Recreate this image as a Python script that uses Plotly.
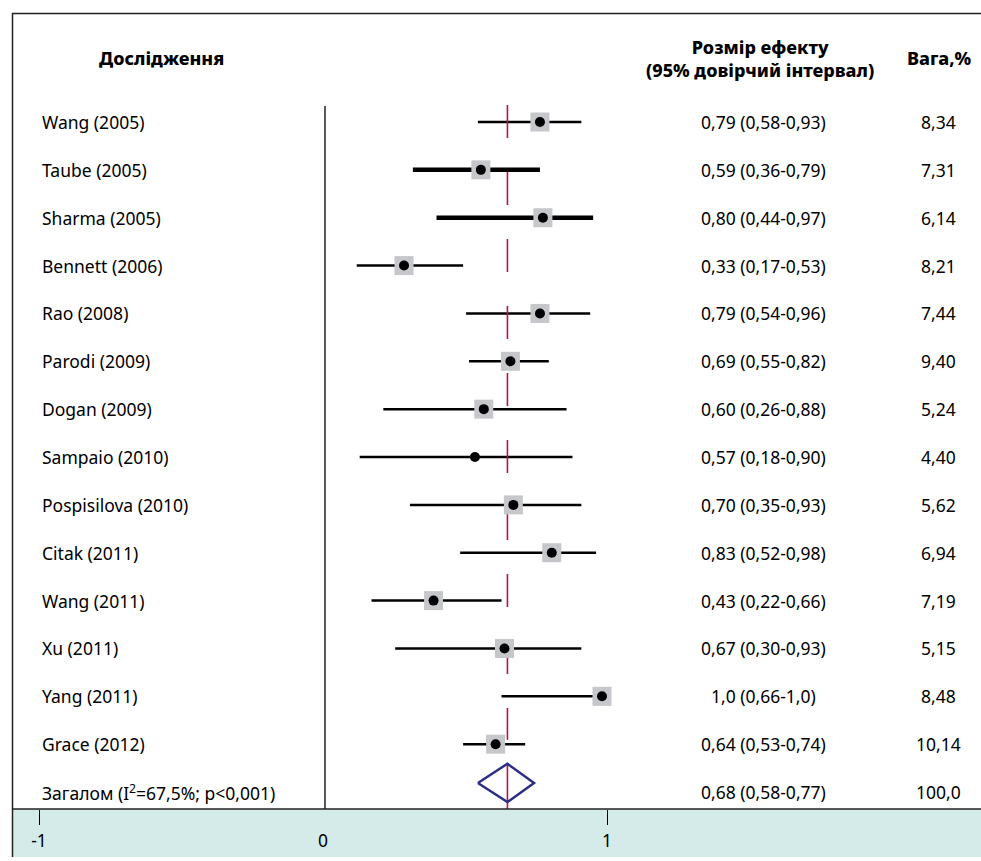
import plotly.graph_objects as go

# ---------------- data ----------------
studies = ["Wang (2005)", "Taube (2005)", "Sharma (2005)", "Bennett (2006)", "Rao (2008)",
           "Parodi (2009)", "Dogan (2009)", "Sampaio (2010)", "Pospisilova (2010)",
           "Citak (2011)", "Wang (2011)", "Xu (2011)", "Yang (2011)", "Grace (2012)"]
effect = [0.79, 0.59, 0.80, 0.33, 0.79, 0.69, 0.60, 0.57, 0.70, 0.83, 0.43, 0.67, 1.0, 0.64]
lower = [0.58, 0.36, 0.44, 0.17, 0.54, 0.55, 0.26, 0.18, 0.35, 0.52, 0.22, 0.30, 0.66, 0.53]
upper = [0.93, 0.79, 0.97, 0.53, 0.96, 0.82, 0.88, 0.90, 0.93, 0.98, 0.66, 0.93, 1.0, 0.74]
effect_text = ["0,79 (0,58-0,93)", "0,59 (0,36-0,79)", "0,80 (0,44-0,97)", "0,33 (0,17-0,53)",
               "0,79 (0,54-0,96)", "0,69 (0,55-0,82)", "0,60 (0,26-0,88)", "0,57 (0,18-0,90)",
               "0,70 (0,35-0,93)", "0,83 (0,52-0,98)", "0,43 (0,22-0,66)", "0,67 (0,30-0,93)",
               "1,0 (0,66-1,0)", "0,64 (0,53-0,74)"]
weights = ["8,34", "7,31", "6,14", "8,21", "7,44", "9,40", "5,24", "4,40", "5,62", "6,94",
           "7,19", "5,15", "8,48", "10,14"]

overall_label = "Загалом (I<sup>2</sup>=67,5%; p&lt;0,001)"
overall_effect = 0.68
overall_lower = 0.58
overall_upper = 0.77
overall_text = "0,68 (0,58-0,77)"
overall_weight = "100,0"

axis_tickvals = [-1, 0, 1]
axis_ticktext = ["-1", "0", "1"]

header_study = "Дослідження"
header_effect = "Розмір ефекту<br>(95% довірчий інтервал)"
header_weight = "Вага,%"

# ---------------- styles ----------------
thick_rows = {"Taube (2005)", "Sharma (2005)"}
no_square_rows = {"Sampaio (2010)"}
FONT = "'Noto Sans', 'DejaVu Sans', sans-serif"
FS = 17.5
W, H = 981, 861
ROW0, ROWH = 122.0, 47.86  # pixel of first row and row spacing


def px_x(p):
    return p / W


def px_y(p):
    return 1 - p / H


n = len(studies)
rows = list(range(n))
overall_row = n

fig = go.Figure()

# CI lines
for thick in (False, True):
    xs, ys = [], []
    for i, s in enumerate(studies):
        if (s in thick_rows) == thick:
            xs += [lower[i], upper[i], None]
            ys += [rows[i], rows[i], None]
    fig.add_trace(go.Scatter(x=xs, y=ys, mode="lines",
                             line=dict(color="black", width=4.5 if thick else 2.5),
                             hoverinfo="skip", showlegend=False))

# red dashed line at pooled estimate
fig.add_trace(go.Scatter(x=[overall_effect, overall_effect], y=[-0.355, overall_row - 1.09],
                         mode="lines", line=dict(color="#bd1240", width=1.6, dash="33px,34px"),
                         hoverinfo="skip", showlegend=False))
fig.add_trace(go.Scatter(x=[overall_effect, overall_effect], y=[overall_row - 0.6, overall_row + 0.354],
                         mode="lines", line=dict(color="#bd1240", width=1.6),
                         hoverinfo="skip", showlegend=False))

# squares
sq_x = [effect[i] for i, s in enumerate(studies) if s not in no_square_rows]
sq_y = [rows[i] for i, s in enumerate(studies) if s not in no_square_rows]
fig.add_trace(go.Scatter(x=sq_x, y=sq_y, mode="markers",
                         marker=dict(symbol="square", size=19, color="#c6c7cb", line=dict(width=0)),
                         hoverinfo="skip", showlegend=False))
# dots
fig.add_trace(go.Scatter(x=effect, y=rows, mode="markers",
                         marker=dict(symbol="circle", size=10, color="black", line=dict(width=0)),
                         hoverinfo="skip", showlegend=False))

# diamond
dy = overall_row - 0.19
fig.add_trace(go.Scatter(x=[overall_lower, overall_effect, overall_upper, overall_effect, overall_lower],
                         y=[dy, dy - 0.4, dy, dy + 0.4, dy], mode="lines",
                         line=dict(color="#2b2e86", width=2.5),
                         hoverinfo="skip", showlegend=False))

# second x axis for ticks
fig.add_trace(go.Scatter(x=[0], y=[0], xaxis="x2", mode="markers",
                         marker=dict(opacity=0), hoverinfo="skip", showlegend=False))

# ---------------- layout ----------------
yr = [(H - ROW0) / ROWH, -ROW0 / ROWH]
x0_data, k_data = 306.5, 295.5
x0_tick, k_tick = 323.0, 284.0
fig.update_layout(
    width=W, height=H, margin=dict(l=0, r=0, t=0, b=0),
    paper_bgcolor="white", plot_bgcolor="rgba(0,0,0,0)",
    font=dict(family=FONT, size=FS, color="black"),
    xaxis=dict(range=[-x0_data / k_data, (W - x0_data) / k_data], visible=False, domain=[0, 1]),
    xaxis2=dict(range=[-x0_tick / k_tick, (W - x0_tick) / k_tick], overlaying="x", anchor="free",
                position=px_y(809), side="bottom", showline=False, showgrid=False, zeroline=False,
                tickvals=axis_tickvals, ticktext=axis_ticktext, ticks="",
                tickfont=dict(family=FONT, size=FS, color="black"),
                minor=dict(tickvals=[-1, 1], ticks="outside", ticklen=15, tickcolor="black", tickwidth=1),
                ticklabelstandoff=19),
    yaxis=dict(range=yr, visible=False, domain=[0, 1]),
    showlegend=False,
    hovermode=False,
)

shapes = []
# cyan band
shapes.append(dict(type="rect", xref="paper", yref="paper", x0=px_x(12), x1=1.01,
                   y0=px_y(857), y1=px_y(809), fillcolor="#d5ebe9", line=dict(width=0), layer="below"))
# frame
shapes.append(dict(type="line", xref="paper", yref="paper", x0=px_x(12), x1=1.01,
                   y0=px_y(13.5), y1=px_y(13.5), line=dict(color="#222", width=1.5)))
shapes.append(dict(type="line", xref="paper", yref="paper", x0=px_x(12.5), x1=px_x(12.5),
                   y0=px_y(13), y1=px_y(857), line=dict(color="#222", width=1.5)))
shapes.append(dict(type="line", xref="paper", yref="paper", x0=px_x(12), x1=1.01,
                   y0=px_y(809), y1=px_y(809), line=dict(color="#222", width=1.5)))
# vertical line at 0
shapes.append(dict(type="line", xref="x2", yref="paper", x0=0.007, x1=0.007,
                   y0=px_y(809), y1=px_y(106), line=dict(color="#222", width=1.5)))
fig.update_layout(shapes=shapes)

ann = []
for i, s in enumerate(studies + [overall_label]):
    ann.append(dict(x=px_x(40), xref="paper", y=i, yref="y", text=s, showarrow=False,
                    xanchor="left", yanchor="middle"))
for i, t in enumerate(effect_text + [overall_text]):
    ann.append(dict(x=px_x(763), xref="paper", y=i, yref="y", text=t, showarrow=False,
                    xanchor="center", yanchor="middle"))
for i, t in enumerate(weights + [overall_weight]):
    ann.append(dict(x=px_x(938), xref="paper", y=i, yref="y", text=t, showarrow=False,
                    xanchor="center", yanchor="middle"))
hfont = dict(family=FONT, size=18, color="black", weight=800)
ann.append(dict(x=px_x(161), xref="paper", y=px_y(58), yref="paper", text=header_study,
                showarrow=False, xanchor="center", yanchor="middle", font=hfont))
ann.append(dict(x=px_x(760), xref="paper", y=px_y(58), yref="paper", text=header_effect,
                showarrow=False, xanchor="center", yanchor="middle", font=hfont))
ann.append(dict(x=px_x(939), xref="paper", y=px_y(58), yref="paper", text=header_weight,
                showarrow=False, xanchor="center", yanchor="middle", font=hfont))
fig.update_layout(annotations=ann)

fig.write_html("out.html",
               config={"displayModeBar": False, "staticPlot": True},
               post_script="document.body.style.margin='0';document.body.style.overflow='hidden';")
